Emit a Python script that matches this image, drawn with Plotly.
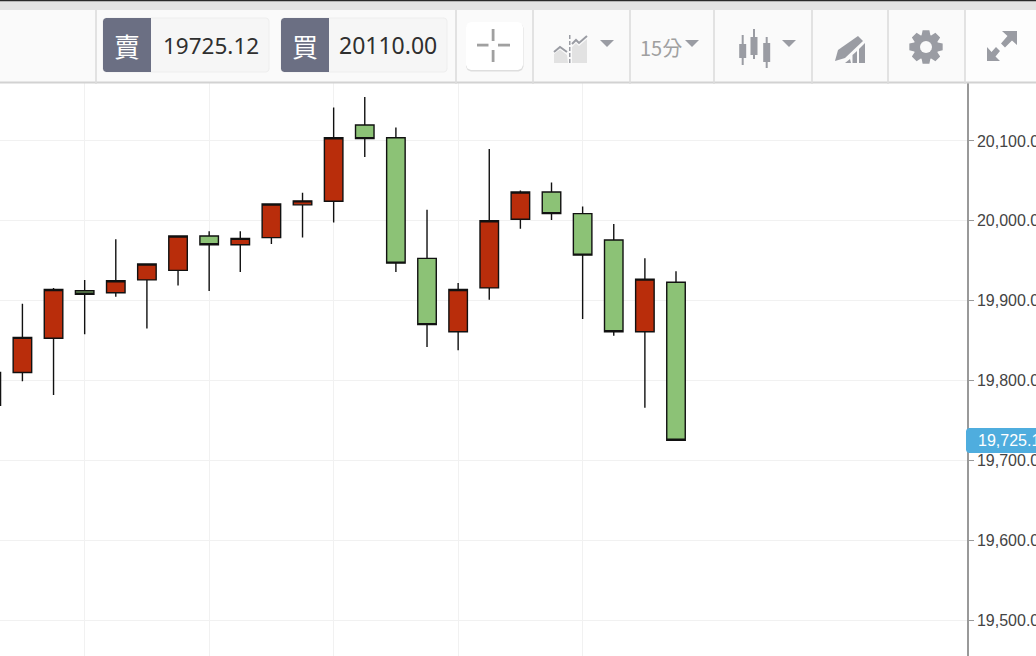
import math
import plotly.graph_objects as go

# ---- data ----
index = list(range(23))
open_ = [19769, 19810, 19853, 19912.5, 19910, 19926, 19938, 19981, 19970, 19979, 20020, 20024.5, 20120, 20104, 19953, 19861, 19916, 20002, 20036, 20009, 19976, 19861, 19923]
high = [19810, 19896, 19916, 19926, 19977, 19946, 19981, 19987, 19987, 20022, 20035, 20142, 20155, 20117, 20014, 19922, 20090, 20038, 20048, 20018, 19996, 19953, 19937]
low = [19769, 19799, 19782, 19858, 19905, 19865, 19919, 19912, 19936, 19971, 19979, 19998, 20080, 19936, 19842, 19838, 19901, 19990, 20001, 19877, 19856, 19766, 19725]
close = [19810, 19854, 19914, 19908, 19925, 19946, 19981, 19970, 19978, 20021, 20025, 20104, 20103, 19947, 19870, 19914, 20000, 20036, 20009, 19957, 19861, 19927, 19725.12]
y_ticks = [19500, 19600, 19700, 19800, 19900, 20000, 20100]
x_grid = [3, 7, 11, 15, 19]
sell_label, sell_price = "賣", "19725.12"
buy_label, buy_price = "買", "20110.00"
period_label = "15分"
last_label = "19,725.12"

W, H = 1036, 656
RED, GREEN = "#b92d0b", "#8cc276"
ICON = "#9a9ca3"


def X(p):
    return p / W


def Y(p):
    return 1 - p / H


shapes, annos = [], []


def rect(x0, y0, x1, y1, fill, line=None, lw=1):
    shapes.append(dict(type="rect", xref="paper", yref="paper", x0=X(x0), x1=X(x1), y0=Y(y0), y1=Y(y1),
                       fillcolor=fill, line=dict(color=line or fill, width=lw if line else 0), layer="above"))


def poly(pts, fill=None, line=None, lw=1, close_it=True):
    d = "M" + " L".join(f"{X(a):.5f},{Y(b):.5f}" for a, b in pts) + (" Z" if close_it else "")
    shapes.append(dict(type="path", xref="paper", yref="paper", path=d, fillcolor=fill or "rgba(0,0,0,0)",
                       line=dict(color=line or "rgba(0,0,0,0)", width=lw if line else 0), layer="above"))


def rrect(x0, y0, x1, y1, r, fill, line=None, lw=1):
    k = r * 0.3
    pts = [(x0 + r, y0), (x1 - r, y0), (x1 - k, y0 + k), (x1, y0 + r), (x1, y1 - r), (x1 - k, y1 - k), (x1 - r, y1),
           (x0 + r, y1), (x0 + k, y1 - k), (x0, y1 - r), (x0, y0 + r), (x0 + k, y0 + k)]
    poly(pts, fill, line, lw)


def text(x, y, s, size, color, anchor="left", family="Noto Sans"):
    annos.append(dict(xref="paper", yref="paper", x=X(x), y=Y(y), text=s, showarrow=False, xanchor=anchor,
                      yanchor="middle", font=dict(size=size, color=color, family=family), align=anchor,
                      borderpad=0, borderwidth=0))


# top chrome
rect(0, 0, W, 10, "#e3e3e3")
rect(0, 0, W, 1.2, "#2a2a2a")
rect(0, 10, W, 82, "#fafafa")
rect(965, 10, W, 82, "#fdfdfd")
rect(0, 81.5, W, 83.5, "#d2d2d2")
for sx in [96, 456, 533, 630, 714, 812, 888, 965]:
    rect(sx - 0.8, 10, sx + 0.8, 84, "#dcdcdc")

# sell / buy
rrect(103, 18, 269, 72, 3, "#f6f6f6", "#eeeeee", 1)
rrect(103, 18, 151, 72, 3, "#6b6f83")
rect(140, 18, 151, 72, "#6b6f83")
text(127, 46, sell_label, 26, "#ffffff", "center", "Noto Sans CJK TC")
text(163, 45, sell_price, 22.5, "#2f2f2f")
rrect(281, 18, 447, 72, 3, "#f6f6f6", "#eeeeee", 1)
rrect(281, 18, 329, 72, 3, "#6b6f83")
rect(318, 18, 329, 72, "#6b6f83")
text(305, 46, buy_label, 26, "#ffffff", "center", "Noto Sans CJK TC")
text(339, 45, buy_price, 23, "#2f2f2f")

# crosshair button
rrect(466, 23, 523.5, 71.5, 5, "#dedede")
rrect(466, 22, 523, 70, 5, "#ffffff")
for a, b, c, d in [(477, 43.7, 488.5, 46.5), (498, 43.7, 510, 46.5), (491.7, 29, 494.5, 41), (491.7, 50, 494.5, 62)]:
    rect(a, b, c, d, "#a0a0a0")

# chart-type icon
poly([(554, 63), (554, 54), (560, 49.5), (567, 55), (568, 63)], "#e2e2e2")
poly([(572, 63), (572, 47), (576, 43), (579, 46), (587, 39), (587, 63)], "#e2e2e2")
poly([(554, 52), (560, 47), (567, 52)], None, ICON, 2, False)
poly([(572, 44), (576, 40), (579, 43), (587, 36)], None, ICON, 2, False)
for yy in [35, 41, 47, 53, 59]:
    rect(569, yy, 570.5, yy + 4, ICON)
poly([(600, 40), (614, 40), (607, 47)], ICON)

# period
text(640, 47, period_label, 20, "#a0a0a0", "left", "Noto Sans CJK TC")
poly([(685, 40), (699, 40), (692, 47)], ICON)

# candle icon
for cx, t, a, b, e in [(742.7, 35, 44, 58, 65), (754, 29, 37, 55, 59), (766.7, 37, 43, 62, 68)]:
    rect(cx - 1, t, cx + 1, e, ICON)
    rect(cx - 3.5, a, cx + 3.5, b, ICON)
poly([(782, 40), (796, 40), (789, 47)], ICON)

# indicator / pencil icon
poly([(838, 50), (858, 36), (863, 41), (845, 58), (835, 61)], ICON)
poly([(845, 63), (850, 59), (851, 63)], ICON)
poly([(852.5, 63), (852.5, 55), (857, 51), (857, 63)], ICON)
poly([(859, 63), (859, 49), (865, 43), (865, 63)], ICON)

# gear icon
gear = []
for i in range(8):
    c = i * math.pi / 4
    for da, rr in [(-0.36, 12.5), (-0.2, 17), (0.2, 17), (0.36, 12.5)]:
        gear.append((926 + rr * math.cos(c + da), 47 + rr * math.sin(c + da)))
poly(gear, ICON)
ring = [(926 + 6 * math.cos(i * math.pi / 8), 47 + 6 * math.sin(i * math.pi / 8)) for i in range(16)]
poly(ring, "#fafafa")

# expand icon
poly([(1002, 31), (1017, 31), (1017, 45), (1012, 40.5), (1005, 47.5), (1001, 43.5), (1007.5, 36)], ICON)
poly([(987, 47), (987, 61), (1000, 61), (995.5, 56.5), (1000, 51), (996, 47), (991.5, 52)], ICON)

# last-price pill
rrect(966, 428, 1040, 453, 3, "#4fadde")
annos.append(dict(xref="paper", yref="y", x=X(976), y=close[-1], text=last_label, showarrow=False, xanchor="left",
                  yanchor="middle", font=dict(size=16, color="#ffffff", family="Liberation Sans")))

fig = go.Figure(go.Candlestick(
    x=index, open=open_, high=high, low=low, close=close, whiskerwidth=0,
    increasing=dict(fillcolor=RED, line=dict(color="#111111", width=1.4)),
    decreasing=dict(fillcolor=GREEN, line=dict(color="#111111", width=1.4)),
    showlegend=False, hoverinfo="none",
))
fig.update_layout(
    width=W, height=H, margin=dict(l=0, r=0, t=0, b=0, pad=0), paper_bgcolor="#ffffff", plot_bgcolor="#ffffff",
    boxgap=0.15, shapes=shapes, annotations=annos, showlegend=False,
    xaxis=dict(domain=[0, 967 / W], range=[0.2796, 31.35], rangeslider=dict(visible=False), tickmode="array",
               tickvals=x_grid, showticklabels=False, ticks="", showgrid=True, gridcolor="#f1f1f1", gridwidth=1,
               zeroline=False, showline=False, automargin=False),
    yaxis=dict(domain=[0, 573 / H], range=[19455, 20172.6], side="right", tickmode="array", tickvals=y_ticks,
               tickformat=",.1f", ticks="outside", ticklen=5, tickcolor="#999999", tickwidth=1,
               tickfont=dict(family="Liberation Sans", size=16, color="#444444"), showgrid=True,
               gridcolor="#f1f1f1", gridwidth=1, zeroline=False, showline=True, linecolor="#999999", linewidth=1.5,
               automargin=False),
)
fig.write_html("out.html", config=dict(displayModeBar=False),
               post_script="document.body.style.margin='0';document.body.style.overflow='hidden';")
